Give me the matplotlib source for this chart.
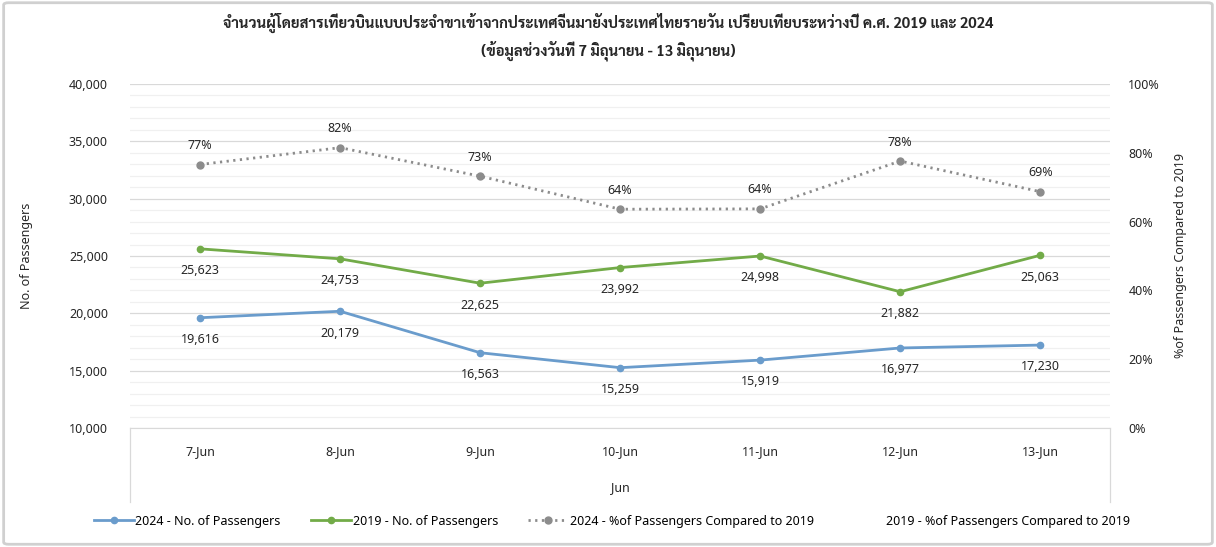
import matplotlib
matplotlib.use("Agg")
import matplotlib.pyplot as plt
import matplotlib.ticker as ticker
from matplotlib import font_manager
from matplotlib.ft2font import FT2Font
from matplotlib.lines import Line2D
from matplotlib.patches import FancyBboxPatch

days = ["7-Jun", "8-Jun", "9-Jun", "10-Jun", "11-Jun", "12-Jun", "13-Jun"]
pax_2024 = [19616, 20179, 16563, 15259, 15919, 16977, 17230]
pax_2019 = [25623, 24753, 22625, 23992, 24998, 21882, 25063]
pct_2024 = [0.766, 0.815, 0.732, 0.636, 0.637, 0.776, 0.687]
pct_labels = ["77%", "82%", "73%", "64%", "64%", "78%", "69%"]

title = ("จำนวนผู้โดยสารเที่ยวบินแบบประจำขาเข้าจากประเทศจีนมายังประเทศไทยรายวัน "
         "เปรียบเทียบระหว่างปี ค.ศ. 2019 และ 2024\n(ข้อมูลช่วงวันที่ 7 มิถุนายน - 13 มิถุนายน)")


# find a font that actually has Thai glyphs
def thai_fonts():
    found = []
    for f in font_manager.fontManager.ttflist:
        try:
            if 0x0E08 in FT2Font(f.fname).get_charmap():
                found.append(f.name)
        except Exception:
            pass
    return sorted(set(found))


thai = thai_fonts()
prefs = ["Sarabun", "Noto Sans Thai Looped", "Noto Sans Thai"]
pick = [p for p in prefs if p in thai] or thai[:1]
title_family = pick[:1] + ["DejaVu Sans"]

plt.rcParams["font.family"] = ["Noto Sans", "DejaVu Sans"]
plt.rcParams["font.size"] = 9

blue = "#6a9ccc"
green = "#72ab48"
grey = "#8c8c8c"
txt = "#262626"

fig = plt.figure(figsize=(12.16, 5.47), dpi=100)
ax = fig.add_axes([0.107, 0.2176, 0.806, 0.6288])
ax2 = ax.twinx()

x = range(len(days))
l1, = ax.plot(x, pax_2024, color=blue, lw=2.0, marker="o", ms=4.5, zorder=3)
l2, = ax.plot(x, pax_2019, color=green, lw=2.0, marker="o", ms=4.5, zorder=3)
l3, = ax2.plot(x, pct_2024, color=grey, lw=2.0, ls=(0, (0.8, 1.6)), marker="o", ms=5, zorder=3)
l4 = Line2D([], [], color="none")

for i, v in enumerate(pax_2024):
    ax.annotate(f"{v:,}", (i, v), xytext=(0, -11), textcoords="offset points",
                ha="center", va="top", color=txt)
for i, v in enumerate(pax_2019):
    ax.annotate(f"{v:,}", (i, v), xytext=(0, -11), textcoords="offset points",
                ha="center", va="top", color=txt)
for i, v in enumerate(pct_2024):
    ax2.annotate(pct_labels[i], (i, v), xytext=(0, 9), textcoords="offset points",
                 ha="center", va="bottom", color=txt)

ax.set_xlim(-0.5, len(days) - 0.5)
ax.set_ylim(10000, 40000)
ax2.set_ylim(0, 1)
ax.yaxis.set_major_locator(ticker.MultipleLocator(5000))
ax.yaxis.set_minor_locator(ticker.MultipleLocator(1000))
ax.yaxis.set_major_formatter(ticker.FuncFormatter(lambda v, p: f"{v:,.0f}"))
ax2.yaxis.set_major_locator(ticker.MultipleLocator(0.2))
ax2.yaxis.set_major_formatter(ticker.FuncFormatter(lambda v, p: f"{v:.0%}"))

ax.grid(True, which="major", axis="y", color="#d9d9d9", lw=0.9)
ax.grid(True, which="minor", axis="y", color="#f0f0f0", lw=0.9)
ax.set_axisbelow(True)

ax.set_xticks(list(x))
ax.set_xticklabels(days)
ax.tick_params(axis="x", length=0, pad=12, colors=txt)
ax.tick_params(axis="y", which="both", length=0, pad=16, colors=txt)
ax2.tick_params(axis="y", length=0, pad=13, colors=txt)

for a in (ax, ax2):
    for s in a.spines.values():
        s.set_visible(False)
ax.spines["bottom"].set_visible(True)
ax.spines["bottom"].set_color("#d9d9d9")

# box under the category axis
for xv in (0, 1):
    ax.add_line(Line2D([xv, xv], [0, -0.215], transform=ax.transAxes,
                       color="#d9d9d9", lw=0.9, clip_on=False))

ax.set_xlabel("Jun", color=txt, labelpad=17)
ax.set_ylabel("No. of Passengers", color=txt, labelpad=26)
ax2.set_ylabel("%of Passengers Compared to 2019", color=txt, labelpad=10)

fig.suptitle(title, y=0.977, fontsize=10.7, fontweight="bold", color=txt,
             family=title_family, linespacing=1.55)

fig.legend([l1, l2, l3, l4],
           ["2024 - No. of Passengers", "2019 - No. of Passengers",
            "2024 - %of Passengers Compared to 2019", "2019 - %of Passengers Compared to 2019"],
           loc="center", bbox_to_anchor=(0.503, 0.047), ncol=4, frameon=False,
           handlelength=3.2, columnspacing=2.4, handletextpad=0.15)

fig.patches.append(FancyBboxPatch((0.003, 0.005), 0.994, 0.99, boxstyle="round,pad=0,rounding_size=0.004",
                                  transform=fig.transFigure, fill=False, ec="#d0d0d0", lw=2.0))

fig.savefig("out.png", dpi=100)
